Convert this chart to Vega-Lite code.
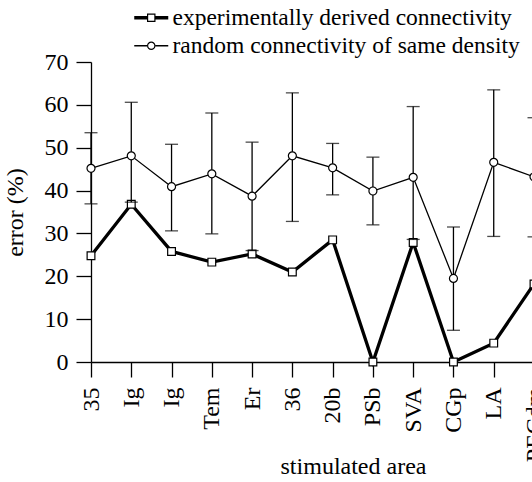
{
  "$schema": "https://vega.github.io/schema/vega-lite/v6.json",
  "background": "white",
  "autosize": {"type": "none"},
  "padding": {"left": 91, "top": 62, "right": -2, "bottom": 120},
  "width": 443,
  "height": 300,
  "data": {
    "values": [
      {"idx": 0, "area": "35", "exp": 24.8, "rnd": 45.2, "lo": 36.9, "hi": 53.5},
      {"idx": 1, "area": "Ig", "exp": 36.8, "rnd": 48.1, "lo": 37.3, "hi": 60.6},
      {"idx": 2, "area": "Ig", "exp": 25.8, "rnd": 40.9, "lo": 30.6, "hi": 50.8},
      {"idx": 3, "area": "Tem", "exp": 23.3, "rnd": 43.9, "lo": 29.9, "hi": 58.1},
      {"idx": 4, "area": "Er", "exp": 25.2, "rnd": 38.7, "lo": 26.0, "hi": 51.3},
      {"idx": 5, "area": "36", "exp": 21.0, "rnd": 48.1, "lo": 32.8, "hi": 62.8},
      {"idx": 6, "area": "20b", "exp": 28.5, "rnd": 45.3, "lo": 39.0, "hi": 51.0},
      {"idx": 7, "area": "PSb", "exp": 0.0, "rnd": 39.9, "lo": 32.0, "hi": 47.8},
      {"idx": 8, "area": "SVA", "exp": 27.9, "rnd": 43.1, "lo": 28.6, "hi": 59.6},
      {"idx": 9, "area": "CGp", "exp": 0.0, "rnd": 19.5, "lo": 7.4, "hi": 31.5},
      {"idx": 10, "area": "LA", "exp": 4.4, "rnd": 46.6, "lo": 29.3, "hi": 63.5},
      {"idx": 11, "area": "PECdm", "exp": 18.2, "rnd": 43.2, "lo": 29.2, "hi": 57.0}
    ]
  },
  "encoding": {
    "x": {
      "field": "idx",
      "type": "quantitative",
      "scale": {"domain": [0, 11], "nice": false, "zero": false},
      "axis": {
        "values": [0, 1, 2, 3, 4, 5, 6, 7, 8, 9, 10, 11],
        "labelExpr": "['35','Ig','Ig','Tem','Er','36','20b','PSb','SVA','CGp','LA','PECdm'][datum.value]",
        "labelAngle": -90,
        "labelPadding": 10,
        "tickSize": 15,
        "grid": false,
        "title": "stimulated area",
        "titleX": 262,
        "titleY": 92
      }
    }
  },
  "layer": [
    {
      "mark": {"type": "line", "color": "black", "strokeWidth": 3.3},
      "encoding": {
        "y": {
          "field": "exp",
          "type": "quantitative",
          "title": "error (%)",
          "scale": {"domain": [0, 70], "nice": false},
          "axis": {
            "values": [0, 10, 20, 30, 40, 50, 60, 70],
            "tickSize": 15,
            "labelPadding": 8,
            "grid": false,
            "title": "error (%)",
            "titlePadding": 17
          }
        }
      }
    },
    {
      "mark": {"type": "point", "shape": "square", "size": 60, "filled": true, "fill": "white", "stroke": "black", "strokeWidth": 1.2, "opacity": 1},
      "encoding": {"y": {"field": "exp", "type": "quantitative", "title": "error (%)"}}
    },
    {
      "mark": {"type": "errorbar", "color": "black", "thickness": 1.3, "ticks": {"size": 13}},
      "encoding": {
        "y": {"field": "lo", "type": "quantitative", "title": "error (%)"},
        "y2": {"field": "hi"}
      }
    },
    {
      "mark": {"type": "line", "color": "black", "strokeWidth": 1.3},
      "encoding": {"y": {"field": "rnd", "type": "quantitative", "title": "error (%)"}}
    },
    {
      "mark": {"type": "point", "shape": "circle", "size": 64, "filled": true, "fill": "white", "stroke": "black", "strokeWidth": 1.2, "opacity": 1},
      "encoding": {"y": {"field": "rnd", "type": "quantitative", "title": "error (%)"}}
    },
    {
      "transform": [{"filter": "false"}],
      "mark": {"type": "point", "filled": true, "color": "black", "opacity": 1},
      "encoding": {
        "y": {"field": "rnd", "type": "quantitative", "title": "error (%)"},
        "shape": {
          "field": "series",
          "type": "nominal",
          "scale": {
            "domain": ["experimentally derived connectivity", "random connectivity of same density"],
            "range": [
              "M-2,-0.2H-0.5V0.2H-2Z M0.5,-0.2H2V0.2H0.5Z M-0.5,-0.5H0.5V0.5H-0.5Z M-0.36,-0.36V0.36H0.36V-0.36Z",
              "M-2,-0.076H-0.5V0.076H-2Z M0.5,-0.076H2V0.076H0.5Z M0.5,0A0.5,0.5 0 1,1 -0.5,0A0.5,0.5 0 1,1 0.5,0Z M0.36,0A0.36,0.36 0 1,0 -0.36,0A0.36,0.36 0 1,0 0.36,0Z"
            ]
          },
          "legend": {
            "orient": "none",
            "legendX": 48.5,
            "legendY": -56,
            "title": null,
            "symbolSize": 289,
            "symbolFillColor": "black",
            "symbolStrokeWidth": 0,
            "symbolOpacity": 1,
            "labelOffset": 9.5,
            "rowPadding": 3,
            "labelLimit": 600,
            "labelFontSize": 23.5,
            "labelFont": "Liberation Serif",
            "labelColor": "black"
          }
        }
      }
    }
  ],
  "config": {
    "view": {"stroke": null},
    "font": "Liberation Serif",
    "legend": {"labelFont": "Liberation Serif", "labelFontSize": 23.5, "labelColor": "black"},
    "axis": {
      "labelFont": "Liberation Serif",
      "labelFontSize": 24,
      "labelColor": "black",
      "titleFont": "Liberation Serif",
      "titleFontSize": 24,
      "titleFontWeight": "normal",
      "titleColor": "black",
      "domainColor": "black",
      "domainWidth": 1.3,
      "tickColor": "black",
      "tickWidth": 1.3
    }
  }
}
